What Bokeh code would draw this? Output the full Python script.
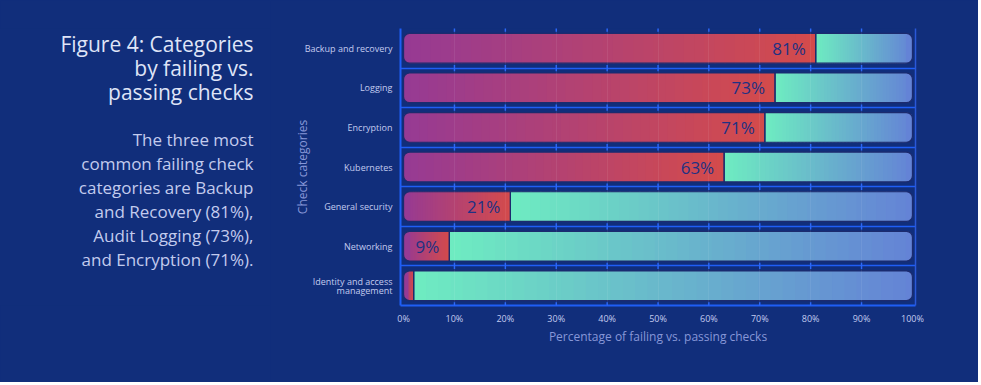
from bokeh.plotting import figure
from bokeh.layouts import row
from bokeh.models import Range1d, FixedTicker, LinearAxis, ColumnDataSource
from bokeh.embed import file_html
from bokeh.resources import INLINE
from bokeh.core.properties import value

# ---------------- data ----------------
categories = ["Backup and recovery", "Logging", "Encryption", "Kubernetes",
              "General security", "Networking", "Identity and access\nmanagement"]
failing = [81, 73, 71, 63, 21, 9, 2]
passing = [19, 27, 29, 37, 79, 91, 98]
x_ticks = [0, 10, 20, 30, 40, 50, 60, 70, 80, 90, 100]
x_tick_labels = ["0%", "10%", "20%", "30%", "40%", "50%", "60%", "70%", "80%", "90%", "100%"]

title_lines = ["Figure 4: Categories", "by failing vs.", "passing checks"]
body_lines = ["The three most", "common failing check", "categories are Backup",
              "and Recovery (81%),", "Audit Logging (73%),", "and Encryption (71%)."]

# ---------------- style ----------------
BG = "#112e7b"
GRID = "#1f5ef5"
FONT = "Open Sans"
F0, F1 = "#963a94", "#d44b4b"      # failing gradient
P0, P1 = "#6eecc1", "#6483d6"      # passing gradient
OUTLINE = "#1c2b6e"
BAR_H = 0.75
N_SLICES = 40
EDGE = 1.3
OVERLAP = 0.3

W, H = 978, 382
TEXT_W = 270
LEFT, RIGHT, TOP, BOTTOM = 400 - TEXT_W, 63, 28, 77

n = len(categories)
ys = [n - 0.5 - i for i in range(n)]


def hex2rgb(h):
    h = h.lstrip("#")
    return tuple(int(h[i:i + 2], 16) for i in (0, 2, 4))


def lerp(c0, c1, t):
    a, b = hex2rgb(c0), hex2rgb(c1)
    return "#%02x%02x%02x" % tuple(int(round(a[k] + (b[k] - a[k]) * t)) for k in range(3))


# ---------------- left text panel (y range in pixels, top-down) ----------------
tp = figure(width=TEXT_W, height=H, x_range=Range1d(0, TEXT_W), y_range=Range1d(H - BOTTOM, TOP),
            output_backend="svg", toolbar_location=None,
            x_axis_location=None, y_axis_location=None,
            min_border_left=0, min_border_right=0, min_border_top=TOP, min_border_bottom=BOTTOM,
            background_fill_color=None, border_fill_color=BG, outline_line_color=None)
tp.xgrid.visible = False
tp.ygrid.visible = False
TEXT_RIGHT = 253
tp.text(x=[TEXT_RIGHT] * len(title_lines), y=[43 + 24 * i for i in range(len(title_lines))],
        text=title_lines, text_align="right", text_baseline="middle",
        text_font=value(FONT), text_font_size="21px", text_color="#dfe4f7")
tp.text(x=[TEXT_RIGHT] * len(body_lines), y=[139 + 24 * i for i in range(len(body_lines))],
        text=body_lines, text_align="right", text_baseline="middle",
        text_font=value(FONT), text_font_size="17px", text_color="#c3cbee")

# ---------------- chart ----------------
p = figure(width=W - TEXT_W, height=H, x_range=Range1d(-0.6, 100.6), y_range=Range1d(0, n),
           output_backend="svg", toolbar_location=None,
           min_border_left=LEFT, min_border_right=RIGHT, min_border_top=TOP,
           min_border_bottom=BOTTOM,
           background_fill_color=None, border_fill_color=BG, outline_line_color=None)

# base rounded bars
p.hbar(y=ys, left=0, right=failing, height=BAR_H, fill_color=F0, line_color=None,
       border_radius=(6, 0, 0, 6))
pass_left = [f for f in failing]
pass_right = [f + q for f, q in zip(failing, passing)]
p.hbar(y=ys, left=pass_left, right=pass_right, height=BAR_H, fill_color=P1, line_color=None,
       border_radius=(0, 6, 6, 0))

# gradient slices
sy, sl, sr, sc = [], [], [], []
for y, f, pl, pr in zip(ys, failing, pass_left, pass_right):
    s = min(EDGE, f * 0.5)
    for j in range(N_SLICES):
        l = s + (f - s) * j / N_SLICES
        r = s + (f - s) * (j + 1) / N_SLICES
        sy.append(y); sl.append(l); sr.append(min(f, r + OVERLAP))
        sc.append(lerp(F0, F1, ((l + r) / 2) / f))
    e = pr - EDGE
    for j in range(N_SLICES):
        l = pl + (e - pl) * j / N_SLICES
        r = pl + (e - pl) * (j + 1) / N_SLICES
        sy.append(y); sl.append(l); sr.append(min(e, r + OVERLAP))
        sc.append(lerp(P0, P1, ((l + r) / 2 - pl) / (pr - pl)))
src = ColumnDataSource(dict(y=sy, left=sl, right=sr, color=sc))
p.hbar(y="y", left="left", right="right", height=BAR_H, fill_color="color",
       line_color=None, source=src)

# outlines on top
p.hbar(y=ys, left=0, right=failing, height=BAR_H, fill_alpha=0, line_color=OUTLINE,
       line_width=1.2, border_radius=(6, 0, 0, 6))
p.hbar(y=ys, left=pass_left, right=pass_right, height=BAR_H, fill_alpha=0, line_color=OUTLINE,
       line_width=1.2, border_radius=(0, 6, 6, 0))

# value labels
labels = [f"{f}%" if f >= 5 else "" for f in failing]
p.text(x=failing, y=ys, text=labels, x_offset=-10, text_align="right", text_baseline="middle",
       text_font=value(FONT), text_font_size="17px", text_color="#213183")

# boundary tick marks
tx, ty0, ty1 = [], [], []
for b in range(n + 1):
    for t in x_ticks[1:-1]:
        tx.append(t); ty0.append(b - 0.08); ty1.append(b + 0.08)
p.segment(x0=tx, x1=tx, y0=ty0, y1=ty1, line_color=GRID, line_width=1.5)

# grids
p.ygrid.ticker = FixedTicker(ticks=list(range(1, n)))
p.ygrid.grid_line_color = GRID
p.ygrid.grid_line_width = 1.5
p.xgrid.ticker = FixedTicker(ticks=x_ticks[1:-1])
p.xgrid.grid_line_color = "#ffffff"
p.xgrid.grid_line_alpha = 0.07
p.xgrid.level = "overlay"

# x axis
xa = p.xaxis[0]
xa.ticker = FixedTicker(ticks=x_ticks)
xa.major_label_overrides = {t: lab for t, lab in zip(x_ticks, x_tick_labels)}
xa.axis_line_color = GRID
xa.axis_line_width = 2
xa.major_tick_line_color = None
xa.major_tick_out = 0
xa.major_tick_in = 0
xa.minor_tick_line_color = None
xa.major_label_text_font = FONT
xa.major_label_text_font_size = "9px"
xa.major_label_text_color = "#c3cbef"
xa.major_label_standoff = 6
xa.axis_label = "Percentage of failing vs. passing checks"
xa.axis_label_text_font = FONT
xa.axis_label_text_font_size = "12px"
xa.axis_label_text_font_style = "normal"
xa.axis_label_text_color = "#8797d8"
xa.axis_label_standoff = 0

# y axis
ya = p.yaxis[0]
ya.ticker = FixedTicker(ticks=ys)
ya.major_label_overrides = {y: c for y, c in zip(ys, categories)}
ya.axis_line_color = GRID
ya.axis_line_width = 2
ya.major_tick_line_color = None
ya.major_tick_out = 0
ya.major_tick_in = 0
ya.minor_tick_line_color = None
ya.major_label_text_font = FONT
ya.major_label_text_font_size = "9px"
ya.major_label_text_color = "#c3cbef"
ya.major_label_text_line_height = 0.72
ya.major_label_standoff = 8
ya.axis_label = "Check categories"
ya.axis_label_text_font = FONT
ya.axis_label_text_font_size = "12px"
ya.axis_label_text_font_style = "normal"
ya.axis_label_text_color = "#8797d8"
ya.axis_label_standoff = -9

# right border line
ra = LinearAxis(ticker=FixedTicker(ticks=[]), axis_line_color="#2a58d8", axis_line_width=1.5,
                major_tick_line_color=None, minor_tick_line_color=None,
                major_label_text_font_size="0px")
p.add_layout(ra, "right")

layout = row(tp, p, spacing=0, styles={"background-color": BG})
open("out.html", "w").write(file_html(layout, INLINE))
